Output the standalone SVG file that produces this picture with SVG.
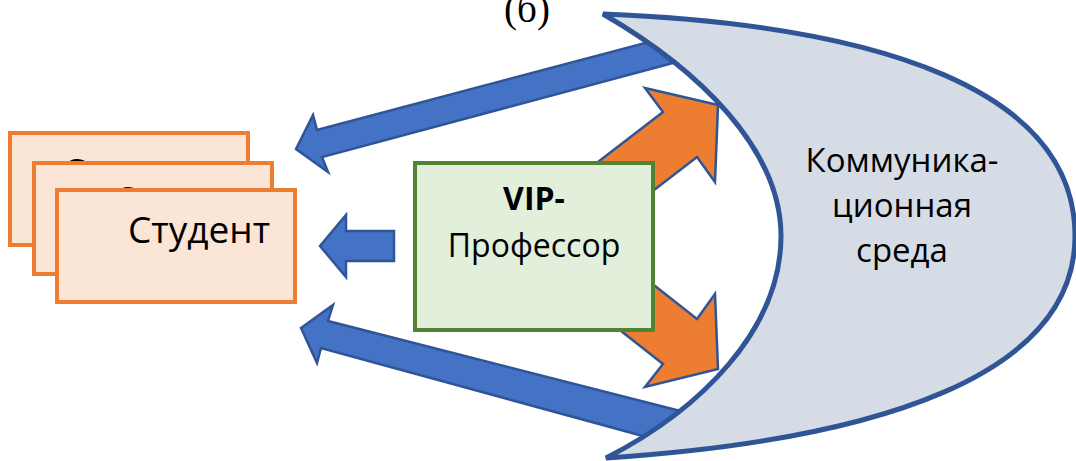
<svg xmlns="http://www.w3.org/2000/svg" width="1076" height="461" viewBox="0 0 1076 461">
  <style>
    .blue { fill: #4472C4; stroke: #2F5597; stroke-width: 2.5; stroke-linejoin: miter; }
    .orange { fill: #ED7D31; stroke: #2F5597; stroke-width: 2.5; stroke-linejoin: miter; }
    .card { fill: #FBE5D6; stroke: #ED7D31; stroke-width: 4; }
    .vip { fill: #E2EFDA; stroke: #548235; stroke-width: 4; }
    .moon { fill: #D6DCE5; stroke: #2F5597; stroke-width: 5; stroke-linejoin: miter; }
    .t { font-family: "Open Sans", "Liberation Sans", sans-serif; fill: #000; }
  </style>
  <rect width="1076" height="461" fill="#FFFFFF"/>
  <text x="527" y="22" font-family="Liberation Serif, serif" font-size="39" text-anchor="middle" fill="#000">(б)</text>
  <g id="connectors">
    <polygon class="blue" points="296,149 313,115 317,130 660,39 688,59 322,157 328,172"/>
    <polygon class="blue" points="394,231 346,231 346,215 320,246 346,277 346,261 394,261"/>
    <polygon class="blue" points="301,328 333,305 328,321 692,414 665,442 321,348 317,363"/>
    <polygon class="orange" points="718,105 645,88 663,112 568,185 602,230 697,157 715,182"/>
    <polygon class="orange" points="718,369 715,294 697,319 603,245 569,290 663,364 645,387"/>
  </g>
  <g id="environment">
    <path class="moon" d="M603,14 C880,25 1075,90 1075,236 C1075,375 880,440 606,458 C700,410 781,330 781,236 C781,150 700,70 603,14 Z"/>
    <text class="t" font-size="33" text-anchor="middle" x="902" y="172">Коммуника-</text>
    <text class="t" font-size="33" text-anchor="middle" x="902" y="217">ционная</text>
    <text class="t" font-size="33" text-anchor="middle" x="902" y="262">среда</text>
  </g>
  <g id="professor">
    <rect class="vip" x="415" y="163" width="238" height="167"/>
    <text class="t" font-size="32" font-weight="bold" text-anchor="middle" x="534" y="210">VIP-</text>
    <text class="t" font-size="32" text-anchor="middle" x="534" y="257">Профессор</text>
  </g>
  <g id="student1">
    <rect class="card" x="10" y="133" width="238" height="112"/>
    <text class="t" font-size="37" x="62" y="185">Студент</text>
  </g>
  <g id="student2">
    <rect class="card" x="34" y="163" width="238" height="111"/>
    <text class="t" font-size="37" x="113" y="213">Студент</text>
  </g>
  <g id="student3">
    <rect class="card" x="57" y="190" width="238" height="112"/>
    <text class="t" font-size="37" x="128" y="243">Студент</text>
  </g>
</svg>
